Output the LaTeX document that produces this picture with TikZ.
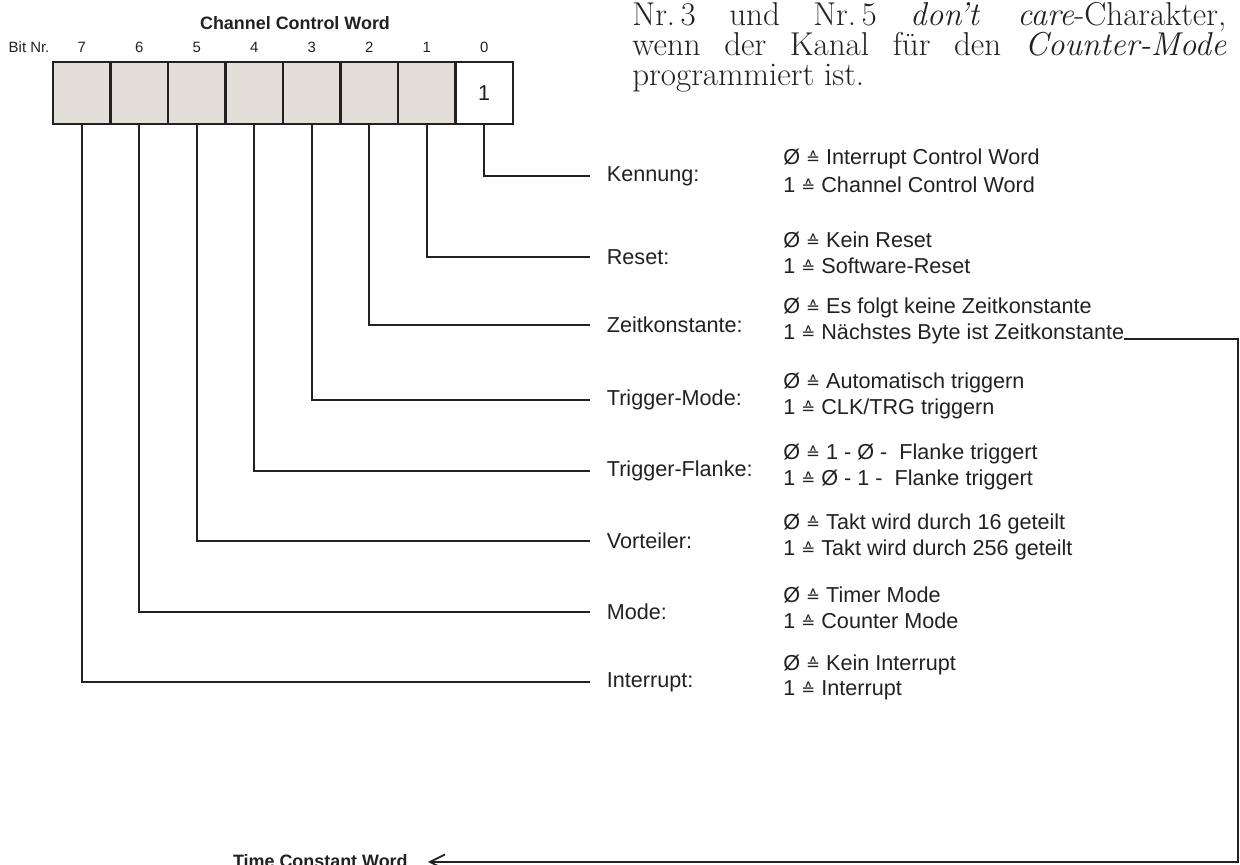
\documentclass[tikz,border=0pt]{standalone}
\usepackage{fontspec}
\setsansfont{Liberation Sans}
\newfontfamily\zeichen{DejaVu Sans}
\usetikzlibrary{positioning,arrows.meta}
\definecolor{tinte}{RGB}{35,33,31}
\definecolor{zellgrau}{RGB}{226,223,217}
\newcommand{\entspr}{{\zeichen\fontsize{9.5}{10}\selectfont ≙}}

\begin{document}
\begin{tikzpicture}[
  font=\sffamily,
  every node/.style={text=tinte},
  zelle/.style={draw=tinte,line width=1.3pt,fill=zellgrau,minimum width=1.15cm,minimum height=1.24cm,inner sep=0pt,outer sep=0pt},
  bitnr/.style={font=\sffamily\fontsize{8.5}{10}\selectfont,inner sep=0pt},
  titel/.style={font=\sffamily\bfseries\fontsize{10.2}{12}\selectfont},
  feld/.style={anchor=west,inner xsep=0.33cm,inner ysep=0pt,font=\sffamily\fontsize{12.3}{14}\selectfont},
  wert/.style={anchor=west,inner sep=0pt,font=\sffamily\fontsize{12.3}{14}\selectfont},
  draht/.style={tinte,line width=1pt}]

\useasboundingbox (0,0) rectangle (24.8,17.3);

% ---- register ----
\node[titel] (ccw) at (5.9,16.84) {Channel Control Word};
\node[zelle] (b7) at (1.635,15.44) {};
\node[zelle,right=0pt of b7] (b6) {};
\node[zelle,right=0pt of b6] (b5) {};
\node[zelle,right=0pt of b5] (b4) {};
\node[zelle,right=0pt of b4] (b3) {};
\node[zelle,right=0pt of b3] (b2) {};
\node[zelle,right=0pt of b2] (b1) {};
\node[zelle,right=0pt of b1,fill=white,font=\sffamily\fontsize{12.3}{14}\selectfont] (b0) {1};

\node[bitnr,above=0.18cm of b7] (n7) {7}; \node[bitnr,above=0.18cm of b6] (n6) {6};
\node[bitnr,above=0.18cm of b5] (n5) {5}; \node[bitnr,above=0.18cm of b4] (n4) {4};
\node[bitnr,above=0.18cm of b3] (n3) {3}; \node[bitnr,above=0.18cm of b2] (n2) {2};
\node[bitnr,above=0.18cm of b1] (n1) {1}; \node[bitnr,above=0.18cm of b0] (n0) {0};
\node[bitnr,left=0.55cm of n7] (bitlabel) {Bit Nr.};

% ---- note (serif) ----
\node[anchor=north west,inner sep=0pt,text width=11.88cm,align=justify,
      font=\rmfamily\fontsize{18.8}{17}\selectfont] (notiz) at (12.64,17.26)
  {\tolerance=10000 \exhyphenpenalty=10000 \hyphenpenalty=10000 \lineskiplimit=-10pt
   Nr.\,3 und Nr.\,5 \textit{don't care}-Charakter,\linebreak
   wenn der Kanal für den \textit{Counter-Mode}\linebreak programmiert ist.};

% ---- fields ----
\node[feld] (kennung) at (11.8,13.78) {Kennung:};
\node[wert] (kennung0) at (15.66,14.12) {Ø \entspr{} Interrupt Control Word};
\node[wert] (kennung1) at (15.66,13.61) {1 \entspr{} Channel Control Word};

\node[feld] (reset) at (11.8,12.16) {Reset:};
\node[wert] (reset0) at (15.66,12.50) {Ø \entspr{} Kein Reset};
\node[wert] (reset1) at (15.66,11.99) {1 \entspr{} Software-Reset};

\node[feld] (zeit) at (11.8,10.80) {Zeitkonstante:};
\node[wert] (zeit0) at (15.66,11.14) {Ø \entspr{} Es folgt keine Zeitkonstante};
\node[wert] (zeit1) at (15.66,10.63) {1 \entspr{} Nächstes Byte ist Zeitkonstante};

\node[feld] (trigmode) at (11.8,9.30) {Trigger-Mode:};
\node[wert] (trigmode0) at (15.66,9.64) {Ø \entspr{} Automatisch triggern};
\node[wert] (trigmode1) at (15.66,9.13) {1 \entspr{} CLK/TRG triggern};

\node[feld] (flanke) at (11.8,7.88) {Trigger-Flanke:};
\node[wert] (flanke0) at (15.66,8.22) {Ø \entspr{} 1 - Ø - \ Flanke triggert};
\node[wert] (flanke1) at (15.66,7.71) {1 \entspr{} Ø - 1 - \ Flanke triggert};

\node[feld] (vort) at (11.8,6.48) {Vorteiler:};
\node[wert] (vort0) at (15.66,6.82) {Ø \entspr{} Takt wird durch 16 geteilt};
\node[wert] (vort1) at (15.66,6.31) {1 \entspr{} Takt wird durch 256 geteilt};

\node[feld] (mode) at (11.8,5.06) {Mode:};
\node[wert] (mode0) at (15.66,5.40) {Ø \entspr{} Timer Mode};
\node[wert] (mode1) at (15.66,4.89) {1 \entspr{} Counter Mode};

\node[feld] (irq) at (11.8,3.66) {Interrupt:};
\node[wert] (irq0) at (15.66,4.00) {Ø \entspr{} Kein Interrupt};
\node[wert] (irq1) at (15.66,3.49) {1 \entspr{} Interrupt};

\draw[draht] (b0.south) |- (kennung.west);
\draw[draht] (b1.south) |- (reset.west);
\draw[draht] (b2.south) |- (zeit.west);
\draw[draht] (b3.south) |- (trigmode.west);
\draw[draht] (b4.south) |- (flanke.west);
\draw[draht] (b5.south) |- (vort.west);
\draw[draht] (b6.south) |- (mode.west);
\draw[draht] (b7.south) |- (irq.west);

% ---- on to the time constant word ----
\coordinate (ecke) at (24.76,0.06);
\node[titel,anchor=east,inner xsep=0.4cm] (tcw) at (8.56,0.08) {Time Constant Word};
\draw[draht,-{Straight Barb[length=0.3cm,width=0.3cm]}] (zeit1.base east) -| (ecke) -- (tcw.east |- ecke);
\end{tikzpicture}
\end{document}
